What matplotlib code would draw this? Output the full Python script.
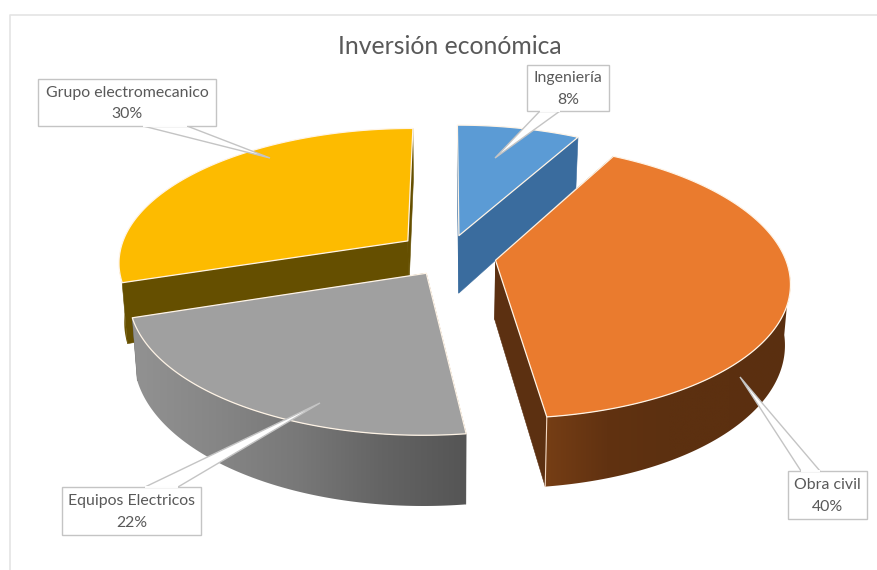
import numpy as np
import matplotlib
matplotlib.use("Agg")
import matplotlib.pyplot as plt
from matplotlib.colors import LinearSegmentedColormap
from matplotlib.patches import Polygon, Rectangle

plt.rcParams["font.family"] = ["Lato", "DejaVu Sans"]

# Data
title = "Inversión económica"
categories = ["Ingeniería", "Obra civil", "Equipos Electricos", "Grupo electromecanico"]
shares = [8, 40, 22, 30]

# Slice styling
explode = [0.17, 0.17, 0.125, 0.17]
shift_px = [(1, -1), (1, -2), (0, 1), (1, -4)]
top_colors = ["#5B9BD5", "#EA7B2E", "#A0A0A0", "#FDBB00"]
cut_colors = ["#3A6C9E", "#5C3011", "#6A6A6A", "#654F00"]
# Rim gradients run from the left to the right of each slice on screen
wall_stops = [
    ["#3A6C9E", "#3A6C9E"],
    ["#763E15", "#613211", "#5C3010", "#5C3010", "#5A2F10"],
    ["#929292", "#868686", "#787878", "#646464", "#555555"],
    ["#6B5300", "#6B5300"],
]

# Projection of the pie plane onto the canvas
CX, CY = 446.0, 258.0
WIDTH, DEPTH, TAPER, THICK, CONVERGE = 289.0, 133.0, 0.15, 59.0, 0.016


def project(x, y, drop=0.0, shift=(0, 0)):
    d = 1 + TAPER * y
    converge = 1 - CONVERGE * drop / THICK
    return np.column_stack([CX + shift[0] + converge * WIDTH * x / d,
                            CY + shift[1] + (drop - DEPTH * y) / d])


fig = plt.figure(figsize=(8.77, 5.70), dpi=100, facecolor="white")
ax = fig.add_axes([0, 0, 1, 1])
ax.axis("off")

# Chart-area border (open at the right and bottom)
ax.plot([9.5, 9.5, 877], [570, 14.5, 14.5], color="#E4E4E4", lw=1.2, zorder=0)

edges = np.concatenate([[0], np.cumsum(shares)]) / np.sum(shares) * 2 * np.pi
mids = (edges[:-1] + edges[1:]) / 2

# Back-to-front paint order: Ingeniería, Grupo, Obra civil, Equipos
z = 2
for i in [0, 3, 1, 2]:
    ox, oy = explode[i] * np.sin(mids[i]), explode[i] * np.cos(mids[i])
    th = np.linspace(edges[i], edges[i + 1], 200)
    rx, ry = ox + np.sin(th), oy + np.cos(th)
    apex_x, apex_y = np.array([ox]), np.array([oy])
    s = shift_px[i]

    # Radial cut faces
    for k in (0, -1):
        end_x, end_y = rx[k:][:1], ry[k:][:1]
        pts = np.vstack([project(apex_x, apex_y, 0, s), project(end_x, end_y, 0, s),
                         project(end_x, end_y, THICK, s), project(apex_x, apex_y, THICK, s)])
        ax.add_patch(Polygon(pts, closed=True, fc=cut_colors[i], ec=cut_colors[i], lw=0.4, zorder=z))
        z += 1

    # Outer rim, filled with a smooth horizontal gradient clipped to its outline
    top_pts = project(rx, ry, 0, s)
    low_pts = project(rx, ry, THICK, s)
    front = np.cos(th) < -0.1
    if front.any():
        rim = np.vstack([top_pts[front], low_pts[front][::-1]])
        patch = Polygon(rim, closed=True, fc="none", ec="none", transform=ax.transData)
        ax.add_patch(patch)
        cmap = LinearSegmentedColormap.from_list("rim", wall_stops[i])
        grad = np.linspace(0, 1, 256)[None, :]
        im = ax.imshow(grad, cmap=cmap, aspect="auto", zorder=z, interpolation="bilinear",
                       extent=(rim[:, 0].min(), rim[:, 0].max(), rim[:, 1].max(), rim[:, 1].min()))
        im.set_clip_path(patch)
    z += 1

    # Thin highlight where the front cut meets the rim
    if i == 1:
        ax.plot(*np.array([top_pts[-1], low_pts[-1]]).T, color="#F3D9C4", lw=0.8, zorder=z)

    # Top face
    outline = np.vstack([project(apex_x, apex_y, 0, s), top_pts])
    ax.add_patch(Polygon(outline, closed=True, fc=top_colors[i], ec="#FFF4E6", lw=0.9, zorder=z, joinstyle="round"))
    z += 1

# Callouts: box (x0, y0, x1, y1), pointer base on the box edge, pointer tip
callouts = [
    ((527, 65, 609, 111), (540, 560), 111, (495, 158)),
    ((788, 471, 867, 519), (801, 820), 471, (740, 377)),
    ((62, 487, 201, 535), (145, 178), 487, (320, 403)),
    ((38, 79, 216, 126), (143, 187), 126, (270, 158)),
]
label_color = "#595959"
line_color = "#C4C4C4"
for name, share, (box, base, base_y, tip) in zip(categories, shares, callouts):
    x0, y0, x1, y1 = box
    ax.add_patch(Polygon([(base[0], base_y), tip, (base[1], base_y)], closed=False,
                         fc="white", ec=line_color, lw=1.0, zorder=z))
    ax.add_patch(Rectangle((x0, y0), x1 - x0, y1 - y0, fc="white", ec=line_color, lw=1.0, zorder=z + 1))
    ax.plot([base[0] + 1, base[1] - 1], [base_y, base_y], color="white", lw=1.4, zorder=z + 2)
    ax.text((x0 + x1) / 2, (y0 + y1) / 2 + 1, f"{name}\n{share}%", ha="center", va="center",
            fontsize=11.4, color=label_color, linespacing=1.65, zorder=z + 3)
    z += 4

ax.text(449.5, 47, title, ha="center", va="center", fontsize=17.8, color=label_color, zorder=z)

ax.set_xlim(0, 877)
ax.set_ylim(570, 0)

fig.savefig("out.png", dpi=100)
